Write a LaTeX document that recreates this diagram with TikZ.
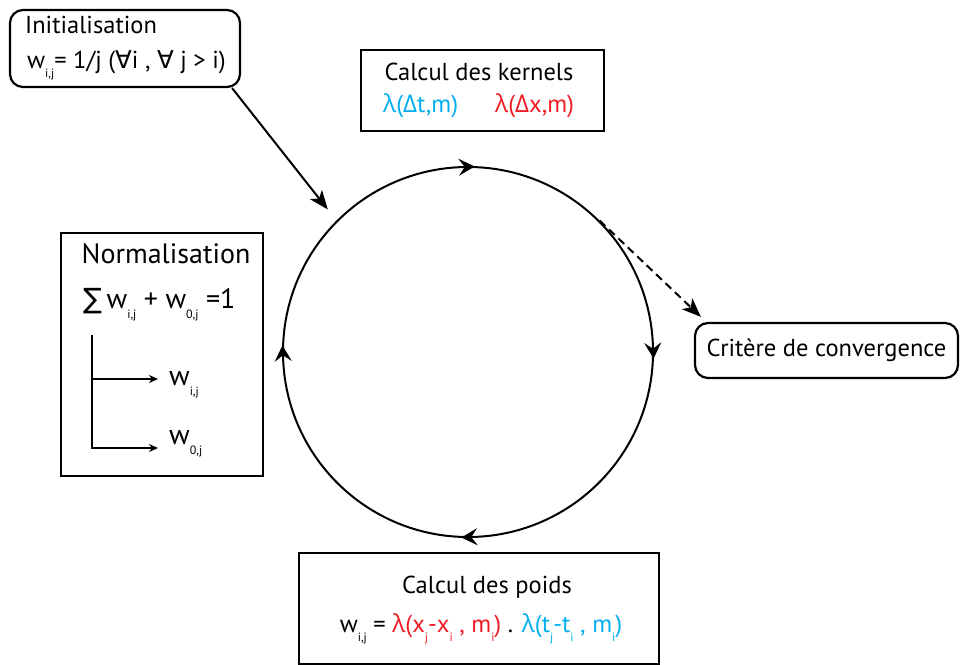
\documentclass[tikz,border=0pt]{standalone}
\usepackage{fontspec}
\setmainfont{PT Sans}
\newfontfamily\grkfont{Open Sans}
\newfontfamily\symfont{DejaVu Sans}
\usetikzlibrary{arrows.meta, positioning, decorations.markings}
\definecolor{kcyan}{RGB}{0,174,239}
\definecolor{kred}{RGB}{237,28,36}
\newcommand{\lowsub}[1]{\raisebox{-0.75ex}{\fontsize{12}{12}\selectfont #1}}
\newcommand{\lam}{{\grkfont λ}}
\newcommand{\Del}{{\grkfont Δ}}

\begin{document}
\begin{tikzpicture}[x=1pt, y=-1pt,
    box/.style={rectangle, draw=black, line width=2.2pt, inner sep=0pt},
    rbox/.style={box, rounded corners=13pt},
    lbl/.style={font=\fontsize{24.5}{28}\selectfont, inner sep=0pt},
    big/.style={font=\fontsize{28}{32}\selectfont, inner sep=0pt},
    arr/.style={line width=2pt, -{Stealth[length=19pt, width=15pt, inset=5pt]}},
    smarr/.style={line width=2pt, -{Stealth[length=9pt, width=8pt]}},
    cyctip/.tip={Stealth[reversed, length=16pt, width=17pt, inset=6pt]},
    cycle/.style={circle, draw, line width=2pt, inner sep=0pt,
      decoration={markings,
        mark=at position 0.008 with {\arrow{cyctip}},
        mark=at position 0.258 with {\arrow{cyctip}},
        mark=at position 0.508 with {\arrow{cyctip}},
        mark=at position 0.758 with {\arrow{cyctip}}},
      postaction={decorate}}
  ]
  \useasboundingbox (0,0) rectangle (963,664);

  \node[cycle, minimum size=370pt] (loop) at (468,352) {};

  \node[rbox, minimum width=230pt, minimum height=77pt] (init) at (125,48.5) {};
  \node[lbl, anchor=base west] (inittitle) at (25,33) {Initialisation};
  \node[lbl, anchor=base west] (initeq) at (27,68)
    {w\lowsub{i,j}= 1/j ({\symfont ∀}i , {\symfont ∀} j > i)};

  \node[box, minimum width=243pt, minimum height=81pt] (kern) at (482.5,90.5) {};
  \node[lbl, anchor=base] (kerntitle) at (479,80) {Calcul des kernels};
  \node[lbl, anchor=base west, text=kcyan] (kernt) at (383,112) {\lam(\Del t,m)};
  \node[lbl, anchor=base west, text=kred] (kernx) at (495,112) {\lam(\Del x,m)};

  \node[box, minimum width=202pt, minimum height=243pt] (norm) at (162,354.5) {};
  \node[big, anchor=base] (normtitle) at (166,263) {Normalisation};
  \node[big, anchor=base west] (normeq) at (83,308)
    {{\symfont ∑}\,w\lowsub{i,j} + w\lowsub{0,j} =1};
  \node[big, anchor=base west] (wij) at (169,385) {w\lowsub{i,j}};
  \node[big, anchor=base west] (w0j) at (169,444) {w\lowsub{0,j}};
  \coordinate (treetop) at (92,335);
  \coordinate (wijtip) at (158,379);
  \coordinate (w0jtip) at (158,448);
  \draw[smarr] (treetop) |- (w0jtip);
  \draw[smarr] (treetop |- wijtip) -- (wijtip);

  \node[rbox, lbl, minimum width=263pt, minimum height=55pt] (conv) at (826.5,350.5)
    {Critère de convergence};

  \node[box, minimum width=360pt, minimum height=111pt] (poids) at (479,608.5) {};
  \node[lbl, anchor=base] (poidstitle) at (487,593) {Calcul des poids};
  \node[lbl, anchor=base] (poidseq) at (481,632)
    {w\lowsub{i,j} = {\color{kred}\lam(x\lowsub{j}-x\lowsub{i} , m\lowsub{i})} .
     {\color{kcyan}\lam(t\lowsub{j}-t\lowsub{i} , m\lowsub{i})}};

  \draw[arr, shorten >=14pt] ([xshift=-9pt]init.south east) -- (loop.135);
  \draw[arr, dash pattern=on 8pt off 5pt] (loop.45) -- ([shift={(7,-5)}]conv.north west);
\end{tikzpicture}
\end{document}
